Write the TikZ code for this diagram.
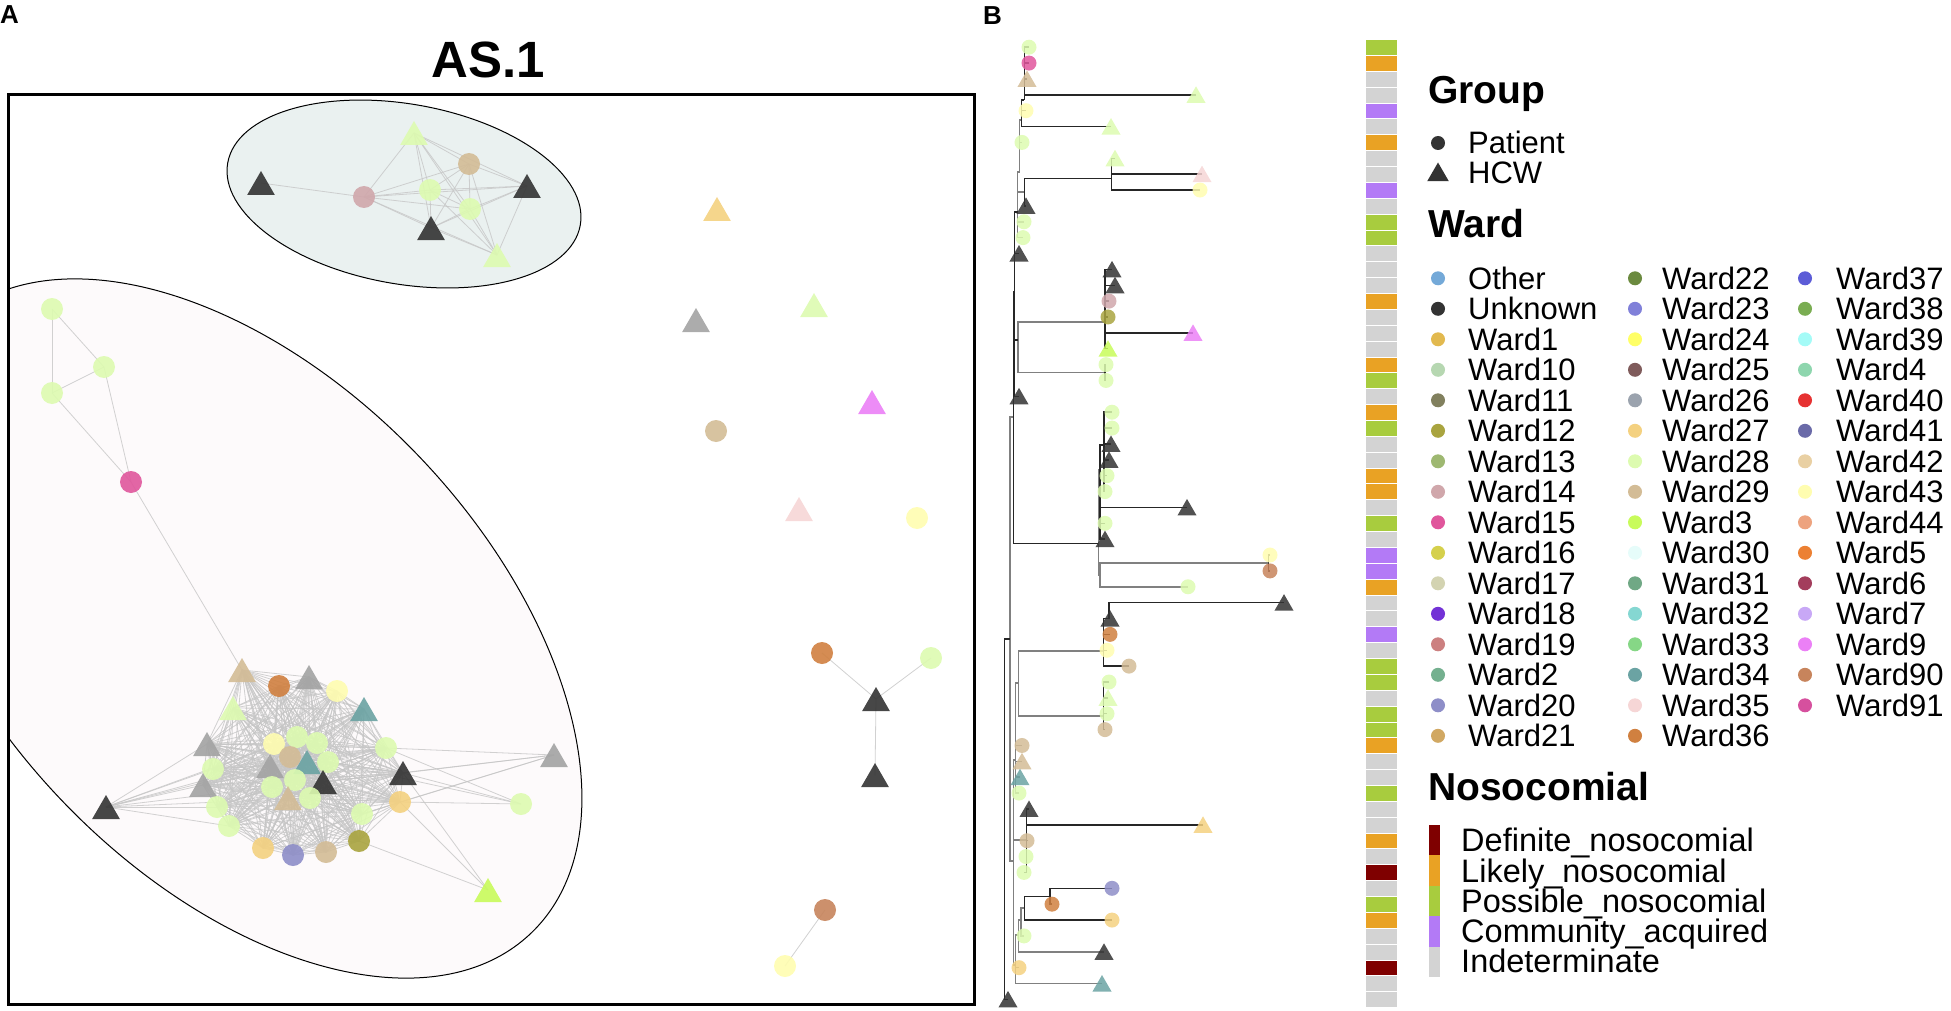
\documentclass[tikz,border=0pt]{standalone}
\usepackage{fontspec}
\setmainfont{Liberation Sans}
\usetikzlibrary{shapes.geometric}

\definecolor{other}{HTML}{74A9D8}
\definecolor{unknown}{HTML}{333333}
\definecolor{unkl}{HTML}{A3A3A3}
\definecolor{ward1}{HTML}{E2B94F}
\definecolor{ward10}{HTML}{B6D7B1}
\definecolor{ward11}{HTML}{81805E}
\definecolor{ward12}{HTML}{A9A43F}
\definecolor{ward13}{HTML}{9EB871}
\definecolor{ward14}{HTML}{D0A7AB}
\definecolor{ward15}{HTML}{E0569C}
\definecolor{ward16}{HTML}{D5D04C}
\definecolor{ward17}{HTML}{D3D3B1}
\definecolor{ward18}{HTML}{7332D6}
\definecolor{ward19}{HTML}{CC8080}
\definecolor{ward2}{HTML}{74B08F}
\definecolor{ward20}{HTML}{8E8EC8}
\definecolor{ward21}{HTML}{D1A862}
\definecolor{ward22}{HTML}{6B8A3F}
\definecolor{ward23}{HTML}{8080D9}
\definecolor{ward24}{HTML}{FFFF66}
\definecolor{ward25}{HTML}{7F5B5B}
\definecolor{ward26}{HTML}{9BA3AE}
\definecolor{ward27}{HTML}{F4D180}
\definecolor{ward28}{HTML}{DDFBB0}
\definecolor{ward29}{HTML}{D3BC96}
\definecolor{ward3}{HTML}{C8FB5B}
\definecolor{ward30}{HTML}{E6FCFA}
\definecolor{ward31}{HTML}{70A885}
\definecolor{ward32}{HTML}{85D7D2}
\definecolor{ward33}{HTML}{86D786}
\definecolor{ward34}{HTML}{6BA3A3}
\definecolor{ward35}{HTML}{F6D6D6}
\definecolor{ward36}{HTML}{D08040}
\definecolor{ward37}{HTML}{5C5CD7}
\definecolor{ward38}{HTML}{7AAD52}
\definecolor{ward39}{HTML}{A4FBF7}
\definecolor{ward4}{HTML}{8ED6AE}
\definecolor{ward40}{HTML}{E63232}
\definecolor{ward41}{HTML}{6A6AA8}
\definecolor{ward42}{HTML}{E9D0A3}
\definecolor{ward43}{HTML}{FFFDB0}
\definecolor{ward44}{HTML}{EDA37F}
\definecolor{ward5}{HTML}{EC8033}
\definecolor{ward6}{HTML}{A33D5C}
\definecolor{ward7}{HTML}{C8A8F6}
\definecolor{ward9}{HTML}{EB80F6}
\definecolor{ward90}{HTML}{C7845C}
\definecolor{ward91}{HTML}{D6509E}
\definecolor{defn}{HTML}{7F0000}
\definecolor{like}{HTML}{E9A224}
\definecolor{poss}{HTML}{A8CC3E}
\definecolor{comm}{HTML}{B37AF6}
\definecolor{indet}{HTML}{D3D3D3}
\definecolor{hullA}{RGB}{234,241,240}
\definecolor{hullB}{RGB}{253,250,251}

\tikzset{
  patnode/.style={circle, minimum size=22pt, inner sep=0pt, fill opacity=0.9},
  hcwnode/.style={regular polygon, regular polygon sides=3, minimum size=32pt, inner sep=0pt, fill opacity=0.9, yshift=-4pt},
  pattip/.style={circle, minimum size=15pt, inner sep=0pt, fill opacity=0.85},
  hcwtip/.style={regular polygon, regular polygon sides=3, minimum size=22pt, inner sep=0pt, fill opacity=0.85, yshift=-2.5pt},
  patkey/.style={circle, minimum size=14pt, inner sep=0pt},
  hcwkey/.style={regular polygon, regular polygon sides=3, minimum size=25pt, inner sep=0pt},
  link/.style={draw=gray!45, line width=0.8pt, opacity=0.8},
  branch/.style={draw=black!85, line width=1.5pt},
  branchg/.style={draw=black!50, line width=1.5pt},
  keytext/.style={anchor=base west, inner sep=0pt, font=\fontsize{31}{31}\selectfont},
  nosotext/.style={anchor=base west, inner sep=0pt, font=\fontsize{32.5}{32.5}\selectfont},
  keytitle/.style={anchor=base west, inner sep=0pt, font=\fontsize{39}{39}\selectfont\bfseries},
}

\begin{document}
\begin{tikzpicture}[x=1pt,y=-1pt]
\useasboundingbox (0,0) rectangle (1951,1011);

% panel A: network
\node[anchor=base west, inner sep=0pt, font=\fontsize{26}{26}\selectfont\bfseries] (panela) at (0,24) {A};
\node[anchor=base, inner sep=0pt, font=\fontsize{51}{51}\selectfont\bfseries] (astitle) at (488,78) {AS.1};

\begin{scope}
\clip (8,95) rectangle (974,1004);
\draw[fill=hullB, line width=1pt, rotate around={-46.4:(240.5,628.5)}] (240.5,628.5) ellipse [x radius=421pt, y radius=248pt];
\end{scope}
\draw[fill=hullA, line width=1pt, rotate around={-10:(404,194)}] (404,194) ellipse [x radius=179pt, y radius=90pt];

\def\netnodes{u1/261/183/hcwnode/unknown, u2/364/197/patnode/ward14, u3/414/133/hcwnode/ward28,
  u4/469/164/patnode/ward29, u5/430/190/patnode/ward28, u6/527/186/hcwnode/unknown,
  u7/470/209/patnode/ward28, u8/431/228/hcwnode/unknown, u9/497/255/hcwnode/ward28,
  s1/717/209/hcwnode/ward27, s2/696/320/hcwnode/unkl, s3/814/305/hcwnode/ward28,
  s4/872/402/hcwnode/ward9, s5/716/431/patnode/ward29, s6/799/509/hcwnode/ward35,
  s7/917/518/patnode/ward43, v1/822/653/patnode/ward36, v2/931/658/patnode/ward28,
  v3/876/699/hcwnode/unknown, v4/875/775/hcwnode/unknown, w1/825/910/patnode/ward90,
  w2/785/966/patnode/ward43, a1/52/309/patnode/ward28, a2/104/367/patnode/ward28,
  a3/52/393/patnode/ward28, a4/131/482/patnode/ward15,
  bL/106/807/hcwnode/unknown, bR/554/755/hcwnode/unkl, bC/521/804/patnode/ward28,
  bW/488/890/hcwnode/ward3,
  b1/242/670/hcwnode/ward29, b2/279/686/patnode/ward36, b3/309/677/hcwnode/unkl,
  b4/337/691/patnode/ward43, b5/233/708/hcwnode/ward28, b6/364/709/hcwnode/ward34,
  b7/207/744/hcwnode/unkl, b8/274/744/patnode/ward43, b9/297/737/patnode/ward28,
  b10/317/743/patnode/ward28, b11/290/757/patnode/ward29, b12/307/762/hcwnode/ward34,
  b13/328/762/patnode/ward28, b14/386/748/patnode/ward28, b15/270/766/hcwnode/unkl,
  b16/213/769/patnode/ward28, b17/203/785/hcwnode/unkl, b18/323/782/hcwnode/unknown,
  b19/295/780/patnode/ward28, b20/272/787/patnode/ward28, b21/403/773/hcwnode/unknown,
  b22/288/798/hcwnode/ward29, b23/310/798/patnode/ward28, b24/217/807/patnode/ward28,
  b25/400/802/patnode/ward27, b26/229/826/patnode/ward28, b27/362/814/patnode/ward28,
  b28/263/848/patnode/ward27, b29/293/855/patnode/ward20, b30/326/852/patnode/ward29,
  b31/359/841/patnode/ward12}

\foreach \n/\x/\y/\s/\c in \netnodes {\coordinate (\n) at (\x,\y);}

\foreach \i in {2,...,8} {
  \pgfmathtruncatemacro\jstart{\i+1}
  \foreach \j in {\jstart,...,9} {\draw[link] (u\i) -- (u\j);}
}
\foreach \i in {1,...,30} {
  \pgfmathtruncatemacro\jstart{\i+1}
  \foreach \j in {\jstart,...,31} {\draw[link] (b\i) -- (b\j);}
}
\foreach \a/\b in {u1/u2, a1/a2, a1/a3, a2/a3, a2/a4, a3/a4, a4/b1, v1/v3, v2/v3, v3/v4, w1/w2,
  bL/b7, bL/b16, bL/b17, bL/b24, bL/b26, bL/b20, bL/b15, bL/b11, bL/b9, bL/b23,
  bR/b21, bR/b25, bR/b18, bR/b14, bR/b27, bC/b21, bC/b25, bC/b14, bC/b13,
  bW/b21, bW/b31, bW/b25}
  \draw[link] (\a) -- (\b);

\foreach \n/\x/\y/\s/\c in \netnodes {\node[\s, fill=\c] (m\n) at (\n) {};}

\draw[line width=3pt] (8,95) rectangle (974,1004);

% panel B: tree
\node[anchor=base west, inner sep=0pt, font=\fontsize{26}{26}\selectfont\bfseries] (panelb) at (983,25) {B};

\def\tiplist{0/1029/pattip/ward28, 1/1029/pattip/ward15, 2/1027/hcwtip/ward29, 3/1196/hcwtip/ward28,
  4/1026/pattip/ward43, 5/1111/hcwtip/ward28, 6/1022/pattip/ward28, 7/1115/hcwtip/ward28,
  8/1202/hcwtip/ward35, 9/1200/pattip/ward43, 10/1026/hcwtip/unknown, 11/1024/pattip/ward28,
  12/1023/pattip/ward28, 13/1019/hcwtip/unknown, 14/1112/hcwtip/unknown, 15/1115/hcwtip/unknown,
  16/1109/pattip/ward14, 17/1108/pattip/ward12, 18/1193/hcwtip/ward9, 19/1108/hcwtip/ward3,
  20/1106/pattip/ward28, 21/1106/pattip/ward28, 22/1019/hcwtip/unknown, 23/1112/pattip/ward28,
  24/1112/pattip/ward28, 25/1111/hcwtip/unknown, 26/1109/hcwtip/unknown, 27/1107/pattip/ward28,
  28/1105/pattip/ward28, 29/1187/hcwtip/unknown, 30/1105/pattip/ward28, 31/1105/hcwtip/unknown,
  32/1270/pattip/ward43, 33/1270/pattip/ward90, 34/1188/pattip/ward28, 35/1284/hcwtip/unknown,
  36/1110/hcwtip/unknown, 37/1110/pattip/ward36, 38/1107/pattip/ward43, 39/1129/pattip/ward29,
  40/1109/pattip/ward28, 41/1108/hcwtip/ward28, 42/1107/pattip/ward28, 43/1105/pattip/ward29,
  44/1022/pattip/ward29, 45/1022/hcwtip/ward29, 46/1020/hcwtip/ward34, 47/1019/pattip/ward28,
  48/1029/hcwtip/unknown, 49/1203/hcwtip/ward27, 50/1027/pattip/ward29, 51/1026/pattip/ward28,
  52/1024/pattip/ward28, 53/1112/pattip/ward20, 54/1052/pattip/ward36, 55/1112/pattip/ward27,
  56/1024/pattip/ward28, 57/1104/hcwtip/unknown, 58/1019/pattip/ward27, 59/1102/hcwtip/ward34,
  60/1008/hcwtip/unknown}

\foreach \k/\x/\s/\c in \tiplist {\coordinate (t\k) at (\x,{47.2+15.87*\k});}

\coordinate (R) at (1004.3,639);
\coordinate (d0) at (1010,639);
\coordinate (d1) at (1013.3,417);
\coordinate (e1) at (1013.3,861);
\coordinate (d2) at (1014.5,292);
\coordinate (c1) at (1098.3,543.3);
\coordinate (f1) at (1017.7,212);
\coordinate (g1) at (1017.8,340);
\coordinate (f2) at (1019.5,172);
\coordinate (f3) at (1024.3,192);
\coordinate (f4) at (1021.7,120);
\coordinate (f5) at (1024.3,100);
\coordinate (k1) at (1111.7,178.3);
\coordinate (h1) at (1105,322);
\coordinate (h2) at (1105,372.5);
\coordinate (c2) at (1100,470);
\coordinate (c3) at (1100,575);
\coordinate (c4) at (1104,445);
\coordinate (c5) at (1268.7,563);
\coordinate (m0) at (1015.5,760);
\coordinate (m1) at (1018.3,683);
\coordinate (m2) at (1103.3,651);
\coordinate (m3) at (1103.3,716);
\coordinate (m4) at (1109,618.5);
\coordinate (n0) at (1026.5,840);
\coordinate (q0) at (1015.7,965);
\coordinate (p0) at (1018.3,935);
\coordinate (p1) at (1021,920);
\coordinate (p2) at (1024.3,908);
\coordinate (p3) at (1050,896.3);

\foreach \a/\b in {d0/d1, d0/e1, f1/f2, f1/f3, f1/t11, f1/t12, f2/f4, f2/t6, g1/h1, g1/h2,
  c1/c2, c1/c3, c3/c5, c3/t34, m0/m1, m0/t44, m0/t45, m0/t46, m0/t47, m1/m2, m1/m3,
  e1/m0, e1/n0, e1/q0, q0/p0, q0/t58, q0/t59, p0/p1, p0/t57, p1/p2, p1/t56}
  \draw[branchg] (\a) |- (\b);
\foreach \a/\b in {R/d0, R/t60, d1/d2, d1/c1, d2/f1, d2/t13, d2/g1, d2/t22, f3/k1, f3/t10,
  f4/f5, f4/t4, f4/t5, f5/t0, f5/t1, f5/t2, f5/t3, k1/t7, k1/t8, k1/t9,
  h1/t14, h1/t15, h1/t16, h1/t17, h1/t18, h1/t19, h2/t20, h2/t21,
  c2/c4, c2/t29, c2/t30, c2/t31, c4/t23, c4/t24, c4/t25, c4/t26, c4/t27, c4/t28, c5/t32, c5/t33,
  m2/m4, m2/t37, m2/t38, m2/t39, m4/t35, m4/t36, m3/t40, m3/t41, m3/t42, m3/t43,
  n0/t48, n0/t49, n0/t50, n0/t51, n0/t52, p2/p3, p2/t55, p3/t53, p3/t54}
  \draw[branch] (\a) |- (\b);

\foreach \k/\x/\s/\c in \tiplist {\node[\s, fill=\c] (tip\k) at (t\k) {};}

% nosocomial strip
\foreach \c [count=\k from 0] in {poss, like, indet, indet, comm, indet, like, indet, indet, comm,
  indet, poss, poss, indet, indet, indet, like, indet, indet, indet,
  like, poss, indet, like, poss, indet, indet, like, like, indet,
  poss, indet, comm, comm, like, indet, indet, comm, indet, poss,
  poss, indet, poss, poss, like, indet, indet, poss, indet, indet,
  like, indet, defn, indet, poss, like, indet, indet, defn, indet, indet}
  \filldraw[fill=\c, draw=white, line width=0.4pt] (1365,{39.3+15.87*\k}) rectangle (1397,{39.3+15.87*(\k+1)});

% legend
\node[keytitle] (grouptitle) at (1428,103.3) {Group};
\node[patkey, fill=unknown] (kpat) at (1438,143) {};
\node[keytext] (lpat) at (1468,154) {Patient};
\node[hcwkey, fill=unknown] (khcw) at (1438,175) {};
\node[keytext] (lhcw) at (1468,184) {HCW};

\node[keytitle] (wardtitle) at (1428,237) {Ward};
\foreach \lab/\col [count=\i from 0] in {Other/other, Unknown/unknown, Ward1/ward1, Ward10/ward10,
  Ward11/ward11, Ward12/ward12, Ward13/ward13, Ward14/ward14, Ward15/ward15, Ward16/ward16,
  Ward17/ward17, Ward18/ward18, Ward19/ward19, Ward2/ward2, Ward20/ward20, Ward21/ward21} {
  \node[patkey, fill=\col] (ka\i) at (1438,{278.3+30.5*\i}) {};
  \node[keytext] (la\i) at (1468,{289.3+30.5*\i}) {\lab};
}
\foreach \lab/\col [count=\i from 0] in {Ward22/ward22, Ward23/ward23, Ward24/ward24, Ward25/ward25,
  Ward26/ward26, Ward27/ward27, Ward28/ward28, Ward29/ward29, Ward3/ward3, Ward30/ward30,
  Ward31/ward31, Ward32/ward32, Ward33/ward33, Ward34/ward34, Ward35/ward35, Ward36/ward36} {
  \node[patkey, fill=\col] (kb\i) at (1635,{278.3+30.5*\i}) {};
  \node[keytext] (lb\i) at (1662,{289.3+30.5*\i}) {\lab};
}
\foreach \lab/\col [count=\i from 0] in {Ward37/ward37, Ward38/ward38, Ward39/ward39, Ward4/ward4,
  Ward40/ward40, Ward41/ward41, Ward42/ward42, Ward43/ward43, Ward44/ward44, Ward5/ward5,
  Ward6/ward6, Ward7/ward7, Ward9/ward9, Ward90/ward90, Ward91/ward91} {
  \node[patkey, fill=\col] (kc\i) at (1805,{278.3+30.5*\i}) {};
  \node[keytext] (lc\i) at (1836,{289.3+30.5*\i}) {\lab};
}

\node[keytitle] (nosotitle) at (1428,800) {Nosocomial};
\foreach \lab/\col [count=\i from 0] in {Definite\_nosocomial/defn, Likely\_nosocomial/like,
  Possible\_nosocomial/poss, Community\_acquired/comm, Indeterminate/indet} {
  \fill[\col] (1429,{825+30.4*\i}) rectangle (1440,{825+30.4*(\i+1)});
  \node[nosotext] (ln\i) at (1461,{851.7+30.3*\i}) {\lab};
}

\end{tikzpicture}
\end{document}
